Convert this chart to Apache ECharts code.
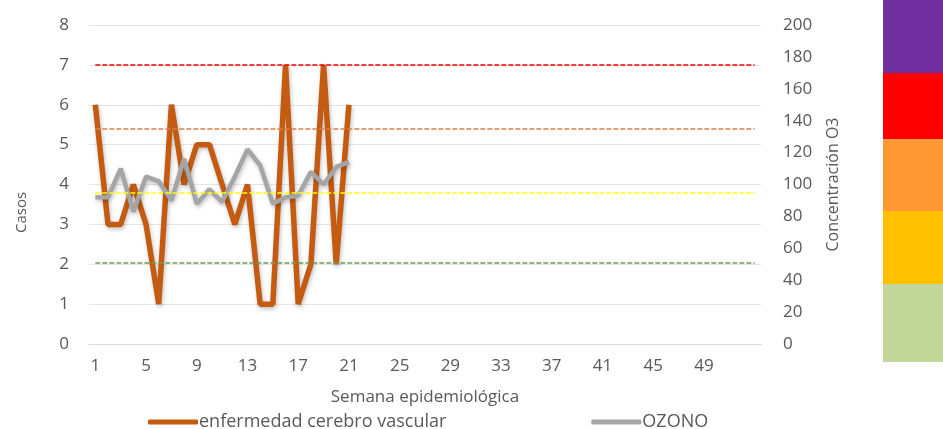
<!DOCTYPE html>
<html>
<head>
<meta charset="utf-8">
<script src="https://cdn.jsdelivr.net/npm/echarts@6/dist/echarts.min.js"></script>
<style>
  html, body { margin: 0; padding: 0; background: #ffffff; }
  #chart { width: 943px; height: 429px; }
</style>
</head>
<body>
<div id="chart"></div>
<script>
// Semanas epidemiológicas 1..53
const semanas = ['1','2','3','4','5','6','7','8','9','10','11','12','13','14','15','16','17','18','19','20',
  '21','22','23','24','25','26','27','28','29','30','31','32','33','34','35','36','37','38','39','40',
  '41','42','43','44','45','46','47','48','49','50','51','52','53'];

// Casos semanales de enfermedad cerebro vascular (eje izquierdo)
const casos = [6, 3, 3, 4, 3, 1, 6, 4, 5, 5, 4, 3, 4, 1, 1, 7, 1, 2, 7, 2, 6];

// Concentración semanal de ozono (eje derecho)
const ozono = [92, 92, 110, 83, 105, 102, 90, 116, 88, 97, 89, 105, 122, 112, 88, 92, 93, 108, 100, 111, 114];

// Umbrales de concentración de O3 dibujados como líneas discontinuas
const umbrales = [51, 95, 135, 175];
const coloresUmbral = ['#6F9A50', '#FFFF00', '#D6804A', '#FF0000'];

// Escala de colores lateral (de abajo hacia arriba)
const escalaTramos = [78, 73, 72, 66, 73];
const escalaColores = ['#C4D79B', '#FFC000', '#FF9933', '#FF0000', '#7030A0'];

const txt = '#595959';
const fuente = 'Open Sans';

const chart = echarts.init(document.getElementById('chart'), null, { renderer: 'canvas' });

const umbralLines = umbrales.map((v, i) => [
  { coord: [semanas[0], v], lineStyle: { color: coloresUmbral[i] } },
  { coord: [semanas[semanas.length - 1], v] }
]);

const escalaSeries = escalaTramos.map((v, i) => ({
  type: 'bar',
  xAxisIndex: 1,
  yAxisIndex: 2,
  stack: 'escala',
  barWidth: '100%',
  silent: true,
  data: [v],
  itemStyle: { color: escalaColores[i] }
}));

chart.setOption({
  animation: false,
  backgroundColor: '#ffffff',
  textStyle: { fontFamily: fuente },
  grid: [
    { left: 89, right: 182, top: 25, bottom: 85 },
    { left: 883, right: 0, top: 0, bottom: 67 }
  ],
  legend: {
    data: ['enfermedad cerebro vascular', 'OZONO'],
    left: 143,
    top: 408,
    itemWidth: 50,
    itemHeight: 5,
    itemGap: 145,
    icon: 'roundRect',
    textStyle: { color: txt, fontSize: 18, fontFamily: fuente, padding: [0, 0, 0, -4] }
  },
  xAxis: [
    {
      type: 'category',
      gridIndex: 0,
      data: semanas,
      boundaryGap: true,
      axisLine: { lineStyle: { color: '#D9D9D9' } },
      axisTick: { show: false },
      axisLabel: {
        interval: (idx) => idx % 4 === 0 && idx < 52,
        color: txt, fontSize: 17, margin: 14
      },
      name: 'Semana epidemiológica',
      nameLocation: 'middle',
      nameGap: 45,
      nameTextStyle: { color: txt, fontSize: 17 }
    },
    {
      type: 'category',
      gridIndex: 1,
      data: ['escala'],
      show: false
    }
  ],
  yAxis: [
    {
      type: 'value',
      gridIndex: 0,
      min: 0, max: 8, interval: 1,
      axisLine: { show: false },
      axisTick: { show: false },
      axisLabel: { color: txt, fontSize: 17, margin: 20 },
      splitLine: { lineStyle: { color: '#E6E6E6' } },
      name: 'Casos',
      nameLocation: 'middle',
      nameRotate: 90,
      nameGap: 60,
      nameTextStyle: { color: txt, fontSize: 15, padding: [0, 56, 0, 0] }
    },
    {
      type: 'value',
      gridIndex: 0,
      position: 'right',
      min: 0, max: 200, interval: 20,
      axisLine: { show: false },
      axisTick: { show: false },
      splitLine: { show: false },
      axisLabel: { color: txt, fontSize: 17, margin: 22 },
      name: 'Concentración O3',
      nameLocation: 'middle',
      nameRotate: 90,
      nameGap: 64,
      nameTextStyle: { color: txt, fontSize: 16 }
    },
    {
      type: 'value',
      gridIndex: 1,
      min: 0,
      max: escalaTramos.reduce((a, b) => a + b, 0),
      show: false
    }
  ],
  series: [
    {
      name: 'enfermedad cerebro vascular',
      type: 'line',
      xAxisIndex: 0,
      yAxisIndex: 0,
      data: casos,
      symbol: 'none',
      color: '#C55A11',
      lineStyle: {
        width: 5.5, color: '#C55A11',
        shadowColor: 'rgba(0,0,0,0.25)', shadowBlur: 4, shadowOffsetX: 1, shadowOffsetY: 2
      },
      z: 3
    },
    {
      name: 'OZONO',
      type: 'line',
      xAxisIndex: 0,
      yAxisIndex: 1,
      data: ozono,
      symbol: 'none',
      color: '#A5A5A5',
      lineStyle: {
        width: 4.5, color: '#A5A5A5',
        shadowColor: 'rgba(0,0,0,0.25)', shadowBlur: 4, shadowOffsetX: 1, shadowOffsetY: 2
      },
      z: 4
    },
    {
      name: 'umbrales',
      type: 'line',
      xAxisIndex: 0,
      yAxisIndex: 1,
      data: [],
      symbol: 'none',
      z: 5,
      markLine: {
        silent: true,
        symbol: ['none', 'none'],
        label: { show: false },
        lineStyle: { type: [5, 2], width: 1.5 },
        data: umbralLines
      }
    }
  ].concat(escalaSeries)
});
</script>
</body>
</html>
